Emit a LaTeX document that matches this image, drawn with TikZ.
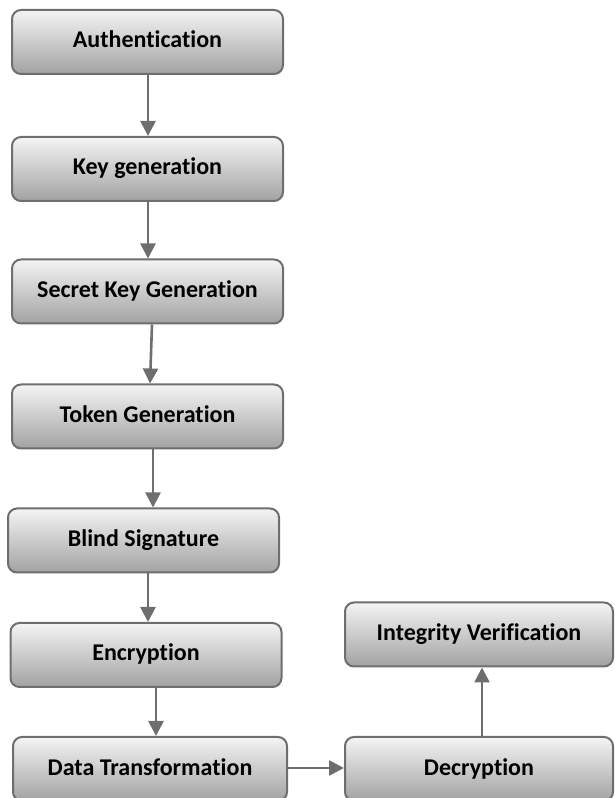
\documentclass[tikz,border=0pt]{standalone}
\usepackage{fontspec}
\setmainfont[Ligatures=NoCommon]{Carlito}
\usetikzlibrary{arrows.meta}
\definecolor{edgegray}{HTML}{6E6E6E}
\definecolor{boxtop}{HTML}{F4F4F4}
\definecolor{boxbot}{HTML}{A2A2A2}
\begin{document}
\begin{tikzpicture}[x=1pt,y=1pt,
  stepbox/.style={draw=edgegray, line width=2pt, rounded corners=9pt,
    top color=boxtop, bottom color=boxbot, minimum width=271pt,
    minimum height=64pt, inner sep=0pt, text height=17pt, text depth=5pt,
    font=\fontsize{24}{28}\selectfont\bfseries, text=black},
  flow/.style={draw=edgegray, line width=2.6pt,
    -{Triangle[length=15pt,width=15pt]}}]
\useasboundingbox (0,0) rectangle (614,798);
\clip (0,0) rectangle (614,798);
\node[stepbox] (A) at (147.5,756) {Authentication};
\node[stepbox] (K) at (147.5,629) {Key generation};
\node[stepbox] (S) at (147.5,506.5) {Secret Key Generation};
\node[stepbox] (T) at (147.5,381.5) {Token Generation};
\node[stepbox] (B) at (143.5,257.5) {Blind Signature};
\node[stepbox] (E) at (146,143) {Encryption};
\node[stepbox, minimum width=274pt] (D) at (150,29) {Data Transformation};
\node[stepbox, minimum width=268pt] (I) at (479,163.5) {Integrity Verification};
\node[stepbox, minimum width=268pt] (C) at (479,29) {Decryption};
\draw[flow] (A.south -| 148,0) -- (K.north -| 148,0);
\draw[flow] (K.south -| 148,0) -- (S.north -| 148,0);
\draw[flow] (S.south -| 152,0) -- (T.north -| 150,0);
\draw[flow] (T.south -| 153,0) -- (B.north -| 153,0);
\draw[flow] (B.south -| 148,0) -- (E.north -| 148,0);
\draw[flow] (E.south -| 156,0) -- (D.north -| 156,0);
\draw[flow] (D.east |- 0,30) -- (C.west |- 0,30);
\draw[flow] (C.north -| 482,0) -- (I.south -| 482,0);
\end{tikzpicture}
\end{document}
